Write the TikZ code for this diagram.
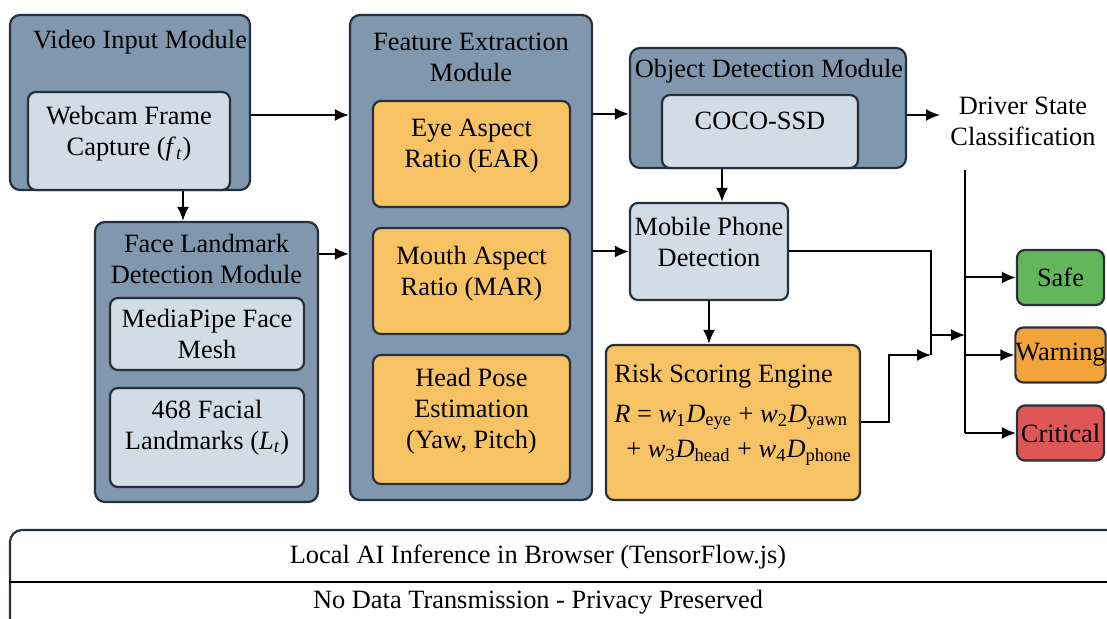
\documentclass[tikz,border=0pt]{standalone}
\usepackage{fontspec}
\setmainfont{Liberation Serif}
\usetikzlibrary{arrows.meta, positioning, calc}
\definecolor{edgeDark}{HTML}{26313B}
\definecolor{moduleBlue}{HTML}{8097AD}
\definecolor{innerLight}{HTML}{D2DCE6}
\definecolor{featOrange}{HTML}{F6C263}
\definecolor{stateSafe}{HTML}{63B65A}
\definecolor{stateWarn}{HTML}{F2A43A}
\definecolor{stateCrit}{HTML}{DF5656}
\newcommand{\lift}[1]{\rule[-#1]{0pt}{#1}}
\newcommand{\wD}[2]{\textit{w}\textsubscript{#1}\textit{D}\textsubscript{#2}}

\begin{document}
\begin{tikzpicture}[
  x=0.5pt, y=-0.5pt,
  font=\fontsize{13.2}{15.5}\selectfont,
  >={Latex[length=7pt,width=6pt]},
  every node/.style={align=center, inner sep=0pt},
  module/.style={draw=edgeDark, fill=moduleBlue, rounded corners=5pt, line width=1.1pt},
  inbox/.style={draw=edgeDark, fill=innerLight, rounded corners=4pt, line width=1.1pt},
  feat/.style={inbox, fill=featOrange},
  state/.style={draw=edgeDark, rounded corners=4pt, line width=1.1pt,
               minimum width=43.5pt, minimum height=27.5pt},
  flow/.style={->, line width=1pt},
  wire/.style={line width=1pt},
]
\useasboundingbox (0,0) rectangle (1107,619);

% video input
\node[module, minimum width=120pt, minimum height=87.5pt] (video) at (130,102.5) {};
\node (videoT) at (140,42) {Video Input Module};
\node[inbox, minimum width=101pt, minimum height=49pt] (web) at (129,141)
  {Webcam Frame\\Capture (\textit{f}\textsubscript{\textit{t}})\lift{10pt}};

% face landmarks
\node[module, minimum width=111.5pt, minimum height=140pt] (face) at (206.5,362) {};
\node (faceT) at (206.5,259) {Face Landmark\\Detection Module};
\node[inbox, minimum width=97pt, minimum height=36pt] (mesh) at (207,334)
  {MediaPipe Face\\Mesh};
\node[inbox, minimum width=97pt, minimum height=49.5pt] (lmk) at (207,437.5)
  {468 Facial\\Landmarks (\textit{L}\textsubscript{\textit{t}})\lift{13pt}};

% feature extraction
\node[module, minimum width=121pt, minimum height=242.5pt] (feature) at (471,257.5) {};
\node (featureT) at (471,57) {Feature Extraction\\Module};
\node[feat, minimum width=98.5pt, minimum height=53pt] (ear) at (471.5,154)
  {Eye Aspect\\Ratio (EAR)\lift{11pt}};
\node[feat, minimum width=98.5pt, minimum height=53pt] (mar) at (471.5,281)
  {Mouth Aspect\\Ratio (MAR)\lift{10pt}};
\node[feat, minimum width=98.5pt, minimum height=64.5pt] (head) at (471.5,419.5)
  {Head Pose\\Estimation\\(Yaw, Pitch)\lift{11pt}};

% object detection
\node[module, minimum width=138pt, minimum height=60pt] (objdet) at (768,108) {};
\node (objdetT) at (769,71) {Object Detection Module};
\node[inbox, minimum width=98pt, minimum height=36.5pt] (coco) at (760,131.5)
  {COCO-SSD\lift{11pt}};
\node[inbox, minimum width=79pt, minimum height=48.5pt] (phone) at (709,251.5)
  {Mobile Phone\\Detection\lift{10pt}};

% risk scoring
\node[feat, align=left, minimum width=127pt, minimum height=77.5pt] (risk) at (733,422.5)
  {Risk Scoring Engine\\[4.5pt]
   \textit{R} = \wD{1}{eye} + \wD{2}{yawn}\\[2pt]
   \hspace{6pt}+ \wD{3}{head} + \wD{4}{phone}\lift{12pt}};

% classification
\node (classify) at (1023,121) {Driver State\\Classification};
\node[state, fill=stateSafe] (safe) at (1060.5,277.5) {Safe};
\node[state, fill=stateWarn] (warn) at (1060.5,355) {Warning};
\node[state, fill=stateCrit] (crit) at (1060.5,433) {Critical};

% browser footer
\node[draw=edgeDark, line width=1.1pt, rounded corners=6pt, fill=white,
      minimum width=560pt, minimum height=52pt] (infra) at (570,582) {};
\draw[wire] (infra.west) -- (infra.east);
\node (local) at (538,557) {Local AI Inference in Browser (TensorFlow.js)};
\node (privacy) at (538,602) {No Data Transmission - Privacy Preserved};

% connectors
\coordinate (videoOut) at ([yshift=-6.25pt]video.east);
\coordinate (webDown) at ([xshift=27pt]web.south);
\coordinate (faceOut) at ([yshift=-16.5pt]face.north east);
\coordinate (featOut) at ([yshift=-50pt]feature.north east);
\coordinate (cocoDown) at ([xshift=-19pt]coco.south);
\coordinate (objOut) at ([yshift=-3.5pt]objdet.east);
\coordinate (joinUp) at (931,335);
\coordinate (joinLow) at (931,355);
\coordinate (riskBend) at (889,355);
\coordinate (trunkTop) at (965,170);

\draw[flow] (videoOut) -- (videoOut -| feature.west);
\draw[flow] (webDown) -- (webDown |- face.north);
\draw[flow] (faceOut) -- (faceOut -| feature.west);
\draw[flow] (featOut) -- (featOut -| objdet.west);
\draw[flow] (phone.west -| feature.east) -- (phone.west);
\draw[flow] (cocoDown) -- (cocoDown |- phone.north);
\draw[flow, shorten >=5pt] (objOut) -- (objOut -| classify.west);
\draw[flow] (phone.south) -- (phone.south |- risk.north);

\draw[wire] (phone.east) -| (joinLow);
\draw[flow] (risk.east) -| (riskBend) -- (joinLow);
\draw[flow] (joinUp) -- (joinUp -| trunkTop);
\draw[wire] (trunkTop) -- (trunkTop |- crit.west);
\foreach \s in {safe, warn, crit}
  \draw[flow] (trunkTop |- \s.west) -- (\s.west);

\end{tikzpicture}
\end{document}
